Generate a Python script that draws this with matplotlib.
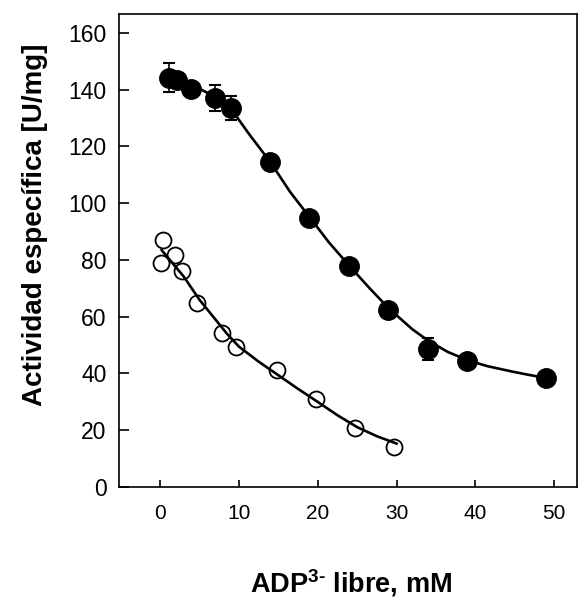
import numpy as np
import matplotlib
matplotlib.use('Agg')
import matplotlib.pyplot as plt

plt.rcParams['font.family'] = ['Liberation Sans', 'DejaVu Sans']
plt.rcParams['mathtext.fontset'] = 'custom'
plt.rcParams['mathtext.rm'] = 'Liberation Sans:bold'
plt.rcParams['mathtext.bf'] = 'Liberation Sans:bold'

# filled circles (ADP3- libre vs actividad)
adp_filled = [1.2, 2.1, 3.9, 7.0, 9.0, 13.9, 18.9, 24.0, 28.9, 34.0, 38.9, 49.0]
act_filled = [144.3, 143.4, 140.2, 137.0, 133.5, 114.4, 94.9, 78.0, 62.3, 48.7, 44.4, 38.5]

# points with visible error bars
err_x = [1.2, 7.0, 9.0, 34.0]
err_y = [144.3, 137.0, 133.5, 48.7]
err_val = [5.0, 4.5, 4.3, 3.8]

# open circles
adp_open = [0.33, 0.08, 1.9, 2.75, 4.7, 7.8, 9.7, 14.8, 19.8, 24.7, 29.7]
act_open = [87.0, 78.8, 81.8, 76.2, 65.0, 54.2, 49.5, 41.2, 30.9, 20.9, 14.2]

# fitted curves
fit_filled_x = [1, 4, 7, 9, 11.4, 14, 16.5, 19, 21.4, 24, 26.5, 29, 32, 34, 36.5, 39, 41.5, 44.8, 47, 49]
fit_filled_y = [144.8, 141.8, 137.5, 133.3, 124.0, 114.5, 104.0, 95.0, 86.3, 78.0, 70.3, 63.0, 55.6, 51.6, 47.6, 44.7, 42.6, 40.6, 39.4, 38.4]

fit_open_x = [0.2, 3, 5, 8.5, 10, 12.5, 15, 17.5, 20, 22.5, 25, 27.5, 30]
fit_open_y = [83.5, 74.2, 66.0, 54.0, 49.5, 44.2, 39.4, 34.6, 30.0, 25.3, 21.1, 17.9, 15.3]

fig = plt.figure(figsize=(5.8, 6.03), dpi=100)
ax = fig.add_axes([0.2052, 0.1924, 0.7897, 0.7844])

ax.plot(fit_filled_x, fit_filled_y, color='black', lw=1.9, zorder=2)
ax.plot(fit_open_x, fit_open_y, color='black', lw=1.9, zorder=2)

ax.errorbar(err_x, err_y, yerr=err_val, fmt='none', ecolor='black',
            elinewidth=1.2, capsize=4, capthick=1.5, zorder=2)
ax.plot(adp_filled, act_filled, 'o', color='black', markersize=14, zorder=3)
ax.plot(adp_open, act_open, 'o', markerfacecolor='none', markeredgecolor='black',
        markersize=11.5, markeredgewidth=1.3, zorder=3)

ax.set_xlim(-5.2, 52.9)
ax.set_ylim(0, 166.7)
ax.set_xticks([0, 10, 20, 30, 40, 50])
ax.set_yticks(np.arange(0, 161, 20))

ax.tick_params(axis='x', direction='in', length=5, width=1.2, labelsize=15, pad=12)
ax.tick_params(axis='y', direction='in', length=7, width=1.2, labelsize=16.5, pad=9)
for s in ax.spines.values():
    s.set_linewidth(1.2)

ax.set_ylabel('Actividad específica [U/mg]', fontsize=20, fontweight='bold')
ax.yaxis.set_label_coords(-0.155, 0.555)
fig.text(0.606, 0.033, r'ADP$^{3\text{-}}$ libre, mM', fontsize=19.5,
         fontweight='bold', ha='center', va='center')

fig.savefig('out.png', dpi=100)
